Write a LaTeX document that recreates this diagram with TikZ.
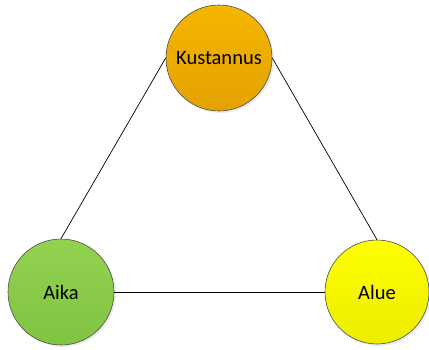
\documentclass[tikz,border=0pt]{standalone}
\usepackage{fontspec}
\setmainfont{Carlito}
\usetikzlibrary{shadows}
\definecolor{kustc}{RGB}{244,182,0}
\definecolor{kustd}{RGB}{228,162,0}
\definecolor{aikac}{RGB}{146,210,80}
\definecolor{aikad}{RGB}{128,196,66}
\definecolor{aluec}{RGB}{255,255,0}
\definecolor{alued}{RGB}{236,236,0}

\tikzset{
    ball/.style={circle, draw=black!70, line width=0.6pt, minimum size=106pt, inner sep=0pt,
        font=\fontsize{20.5}{24}\selectfont,
        drop shadow={shadow xshift=2pt, shadow yshift=-2pt, opacity=0.15}},
    link/.style={line width=0.7pt, black}
}

\begin{document}
\begin{tikzpicture}[x=1pt, y=1pt]
        \useasboundingbox (0,0) rectangle (429,349);
        \node[ball, top color=kustc, bottom color=kustd] (kustannus) at (219,291) {Kustannus};
        \node[ball, top color=aikac, bottom color=aikad] (aika) at (61,57) {Aika};
        \node[ball, top color=aluec, bottom color=alued, minimum size=104pt] (alue) at (377,57) {Alue};
        \draw[link] (kustannus.west) -- (aika.north);
        \draw[link] (kustannus.east) -- (alue.north);
        \draw[link] (aika.east) -- (alue.west);
    \end{tikzpicture}
\end{document}
